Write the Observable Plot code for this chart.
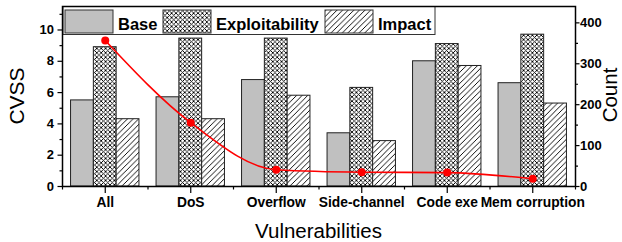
<!DOCTYPE html>
<html>
<head>
<meta charset="utf-8">
<script src="https://cdn.jsdelivr.net/npm/d3@7"></script>
<script src="https://cdn.jsdelivr.net/npm/@observablehq/plot@0.6"></script>
<style>
  body { margin: 0; background: #fff; }
  #chart { width: 622px; height: 242px; }
</style>
</head>
<body>
<svg width="0" height="0" style="position:absolute">
  <defs>
    <pattern id="xhatch" patternUnits="userSpaceOnUse" width="4.4" height="4.4">
      <rect width="4.4" height="4.4" fill="#fff"></rect>
      <path d="M-1,-1L5.4,5.4M-1,5.4L5.4,-1" stroke="#000" stroke-width="1" shape-rendering="crispEdges"></path>
    </pattern>
    <pattern id="dhatch" patternUnits="userSpaceOnUse" width="5.6" height="5.6">
      <rect width="5.6" height="5.6" fill="#fff"></rect>
      <path d="M-1,6.6L6.6,-1M-1,1L1,-1M4.6,6.6L6.6,4.6" stroke="#000" stroke-width="1" shape-rendering="crispEdges"></path>
    </pattern>
  </defs>
</svg>
<div id="chart"></div>
<script>
// ---- data ----
const categories = ["All", "DoS", "Overflow", "Side-channel", "Code exe", "Mem corruption"];
const seriesNames = ["Base", "Exploitability", "Impact"];
const baseScores = [5.5, 5.7, 6.8, 3.4, 8.0, 6.6];
const exploitabilityScores = [8.9, 9.45, 9.45, 6.3, 9.1, 9.7];
const impactScores = [4.3, 4.3, 5.8, 2.9, 7.7, 5.3];
const counts = [357, 156, 41, 35, 34, 19];
const cvssTicks = [0, 2, 4, 6, 8, 10];
const cvssMinorTicks = [1, 3, 5, 7, 9, 11];
const countTicks = [0, 100, 200, 300, 400];
const countMinorTicks = [50, 150, 250, 350];
const xTitle = "Vulnerabilities", yTitleLeft = "CVSS", yTitleRight = "Count";

// ---- derived tables ----
const cvssMax = 11.5, countMax = 440;
const k = cvssMax / countMax; // count -> cvss units for the shared y scale
const seriesValues = [baseScores, exploitabilityScores, impactScores];
const seriesFills = ["#c0c0c0", "url(#xhatch)", "url(#dhatch)"];
const groupWidth = 0.8, barW = groupWidth / seriesNames.length;

const barRows = seriesNames.map((s, j) =>
  categories.map((c, i) => ({
    category: c, series: s,
    x1: i + (1 - groupWidth) / 2 + j * barW,
    x2: i + (1 - groupWidth) / 2 + (j + 1) * barW,
    value: seriesValues[j][i]
  }))
);
const countRows = categories.map((c, i) => ({category: c, x: i + 0.5, count: counts[i]}));

const FONT = "'Liberation Sans', Arial, Helvetica, sans-serif";

function legendMark(index, scales, values, dims) {
  const g = d3.create("svg:g").attr("font-family", FONT).attr("text-anchor", "start");
  const left = dims.marginLeft + 1, top = dims.marginTop + 0.5;
  g.append("rect").attr("x", left).attr("y", top).attr("width", 372).attr("height", 28)
    .attr("fill", "#fff").attr("stroke", "#333").attr("stroke-width", 1);
  const swX = [65, 163, 325], txX = [118, 216, 378];
  seriesNames.forEach((name, j) => {
    g.append("rect").attr("x", swX[j]).attr("y", 10).attr("width", 48).attr("height", 23)
      .attr("fill", seriesFills[j]).attr("stroke", "#333").attr("stroke-width", 1);
    g.append("text").attr("x", txX[j]).attr("y", 29.5).attr("font-size", 16.5)
      .attr("font-weight", "bold").attr("fill", "#000").attr("text-anchor", "start").text(name);
  });
  return g.node();
}

function titlesMark(index, scales, values, dims) {
  const g = d3.create("svg:g").attr("font-family", FONT).attr("fill", "#000").attr("text-anchor", "middle");
  const midY = dims.marginTop + (dims.height - dims.marginTop - dims.marginBottom) / 2;
  const midX = dims.marginLeft + (dims.width - dims.marginLeft - dims.marginRight) / 2;
  g.append("text").attr("transform", `translate(${midX},238)`).attr("font-size", 20.5).text(xTitle);
  g.append("text").attr("transform", `translate(24,${midY}) rotate(-90)`).attr("font-size", 21).text(yTitleLeft);
  g.append("text").attr("transform", `translate(617,${midY - 1}) rotate(-90)`).attr("font-size", 20.5).text(yTitleRight);
  return g.node();
}

const plot = Plot.plot({
  width: 622,
  height: 242,
  marginLeft: 62,
  marginRight: 47,
  marginTop: 6,
  marginBottom: 56,
  style: {fontFamily: FONT, color: "#000", background: "#fff", overflow: "visible"},
  x: {type: "linear", domain: [0, categories.length]},
  y: {domain: [0, cvssMax]},
  marks: [
    ...barRows.map((rows, j) =>
      Plot.rect(rows, {x1: "x1", x2: "x2", y1: 0, y2: "value", fill: seriesFills[j], stroke: "#222", strokeWidth: 1})
    ),
    Plot.line(countRows, {x: "x", y: d => d.count * k, stroke: "#ff0000", strokeWidth: 1.6, curve: "monotone-x"}),
    Plot.dot(countRows, {x: "x", y: d => d.count * k, r: 4, fill: "#ff0000", stroke: "none"}),
    legendMark,
    // x axis: category labels at group centers, minor ticks at boundaries
    Plot.axisX(countRows.map(d => d.x), {
      tickFormat: v => categories[Math.floor(v)], tickSize: 7, tickPadding: 4,
      fontSize: 13.8, fontWeight: "bold", label: null, strokeWidth: 1.2
    }),
    Plot.axisX(d3.range(0, categories.length + 1), {tickSize: 3.5, tickFormat: () => "", label: null, strokeWidth: 1.2}),
    // left axis
    Plot.axisY(cvssTicks, {anchor: "left", tickSize: 4.5, tickPadding: 4, fontSize: 13, fontWeight: "bold", label: null, strokeWidth: 1.2}),
    Plot.axisY(cvssMinorTicks, {anchor: "left", tickSize: 2.5, tickFormat: () => "", label: null, strokeWidth: 1.2}),
    // right axis (count)
    Plot.axisY(countTicks.map(c => c * k), {anchor: "right", tickSize: 3.5, tickPadding: 1, tickFormat: v => String(Math.round(v / k)), fontSize: 13, fontWeight: "bold", label: null, strokeWidth: 1.2}),
    Plot.axisY(countMinorTicks.map(c => c * k), {anchor: "right", tickSize: 2, tickFormat: () => "", label: null, strokeWidth: 1.2}),
    Plot.frame({stroke: "#000", strokeWidth: 1.5}),
    titlesMark
  ]
});
document.getElementById("chart").appendChild(plot);
</script>
</body>
</html>
